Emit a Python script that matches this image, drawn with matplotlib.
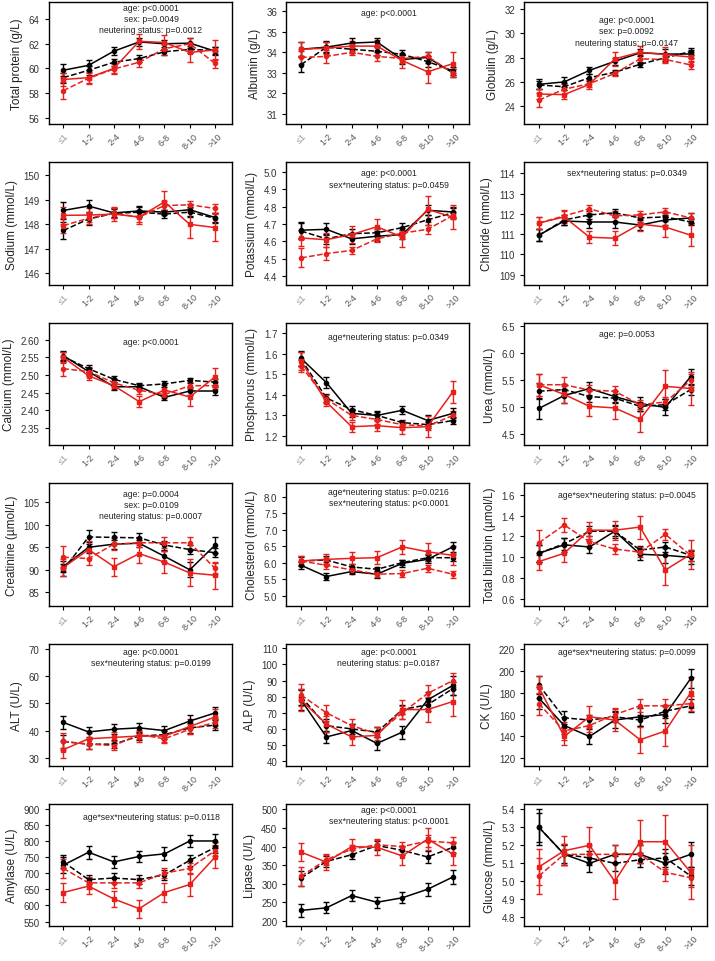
import numpy as np
import matplotlib
matplotlib.use("Agg")
import matplotlib.pyplot as plt

plt.rcParams['font.family'] = ['Liberation Sans', 'DejaVu Sans']

ages = ["≤1", "1-2", "2-4", "4-6", "6-8", "8-10", ">10"]

# each panel: [black solid, black dashed, red solid, red dashed]
total_protein = [[59.85, 60.25, 61.4, 62.15, 62.0, 62.05, 61.4],
                 [59.25, 59.85, 60.5, 60.8, 61.35, 61.55, 61.45],
                 [59.1, 59.25, 60.0, 62.2, 62.1, 61.3, 61.5],
                 [58.2, 59.2, 59.95, 60.5, 61.6, 62.0, 60.4]]
total_protein_err = [[0.5, 0.4, 0.35, 0.35, 0.3, 0.4, 0.35],
                     [0.4, 0.35, 0.3, 0.3, 0.25, 0.3, 0.3],
                     [0.5, 0.4, 0.4, 0.6, 0.6, 0.8, 0.8],
                     [0.7, 0.5, 0.4, 0.35, 0.5, 0.5, 0.4]]

albumin = [[34.15, 34.25, 34.45, 34.5, 33.65, 33.75, 33.0],
           [33.4, 34.25, 34.15, 34.05, 33.9, 33.55, 33.1],
           [34.15, 34.2, 34.3, 34.3, 33.6, 33.05, 33.45],
           [33.75, 33.8, 34.0, 33.8, 33.7, 33.8, 33.0]]
albumin_err = [[0.35, 0.3, 0.25, 0.2, 0.2, 0.25, 0.2],
               [0.35, 0.25, 0.2, 0.2, 0.2, 0.25, 0.2],
               [0.35, 0.3, 0.25, 0.3, 0.35, 0.55, 0.55],
               [0.3, 0.3, 0.15, 0.2, 0.2, 0.2, 0.2]]

globulin = [[25.8, 26.0, 26.95, 27.7, 28.4, 28.3, 28.3],
            [25.75, 25.6, 26.35, 26.8, 27.45, 28.0, 28.5],
            [25.0, 24.95, 25.8, 27.9, 28.45, 28.25, 28.05],
            [24.5, 25.4, 25.85, 26.7, 27.9, 27.85, 27.4]]
globulin_err = [[0.4, 0.4, 0.3, 0.3, 0.3, 0.4, 0.3],
                [0.3, 0.3, 0.3, 0.2, 0.2, 0.3, 0.3],
                [0.4, 0.4, 0.4, 0.55, 0.55, 0.6, 0.4],
                [0.55, 0.4, 0.3, 0.2, 0.3, 0.3, 0.3]]

sodium = [[148.57, 148.75, 148.47, 148.55, 148.5, 148.6, 148.28],
          [147.75, 148.22, 148.45, 148.5, 148.42, 148.5, 148.25],
          [148.37, 148.38, 148.42, 148.3, 148.92, 148.0, 147.87],
          [147.95, 148.25, 148.45, 148.3, 148.77, 148.8, 148.65]]
sodium_err = [[0.35, 0.25, 0.15, 0.2, 0.1, 0.25, 0.2],
              [0.35, 0.25, 0.2, 0.2, 0.15, 0.2, 0.2],
              [0.35, 0.3, 0.3, 0.3, 0.45, 0.55, 0.55],
              [0.3, 0.25, 0.2, 0.2, 0.2, 0.15, 0.2]]

potassium = [[4.665, 4.67, 4.615, 4.63, 4.64, 4.78, 4.77],
             [4.66, 4.615, 4.645, 4.65, 4.68, 4.725, 4.765],
             [4.62, 4.61, 4.64, 4.685, 4.625, 4.785, 4.74],
             [4.505, 4.53, 4.548, 4.615, 4.648, 4.67, 4.75]]
potassium_err = [[0.045, 0.035, 0.03, 0.03, 0.025, 0.03, 0.03],
                 [0.045, 0.03, 0.025, 0.02, 0.025, 0.03, 0.03],
                 [0.045, 0.04, 0.05, 0.045, 0.055, 0.075, 0.07],
                 [0.055, 0.04, 0.02, 0.02, 0.02, 0.025, 0.02]]

chloride = [[110.95, 111.65, 111.6, 111.6, 111.45, 111.7, 111.8],
            [110.95, 111.7, 111.95, 112.05, 111.8, 111.85, 111.6],
            [111.55, 111.85, 110.85, 110.8, 111.5, 111.35, 110.95],
            [111.55, 111.9, 112.25, 111.9, 111.95, 112.1, 111.8]]
chloride_err = [[0.3, 0.2, 0.3, 0.3, 0.25, 0.25, 0.25],
                [0.3, 0.25, 0.2, 0.2, 0.2, 0.2, 0.15],
                [0.3, 0.3, 0.3, 0.35, 0.35, 0.5, 0.55],
                [0.3, 0.3, 0.2, 0.25, 0.2, 0.2, 0.25]]

calcium = [[2.555, 2.51, 2.467, 2.467, 2.437, 2.455, 2.455],
           [2.552, 2.518, 2.488, 2.47, 2.475, 2.485, 2.48],
           [2.55, 2.498, 2.47, 2.425, 2.458, 2.438, 2.495],
           [2.518, 2.51, 2.478, 2.457, 2.445, 2.47, 2.47]]
calcium_err = [[0.012, 0.01, 0.008, 0.008, 0.008, 0.01, 0.01],
               [0.012, 0.01, 0.008, 0.008, 0.008, 0.008, 0.008],
               [0.015, 0.012, 0.01, 0.015, 0.015, 0.025, 0.025],
               [0.02, 0.012, 0.01, 0.01, 0.01, 0.01, 0.01]]

phosphorus = [[1.578, 1.46, 1.31, 1.3, 1.325, 1.275, 1.31],
              [1.575, 1.385, 1.328, 1.3, 1.265, 1.255, 1.275],
              [1.565, 1.365, 1.245, 1.25, 1.24, 1.245, 1.415],
              [1.54, 1.38, 1.3, 1.28, 1.255, 1.248, 1.3]]
phosphorus_err = [[0.035, 0.025, 0.02, 0.02, 0.02, 0.025, 0.025],
                  [0.035, 0.02, 0.02, 0.015, 0.015, 0.015, 0.015],
                  [0.045, 0.02, 0.025, 0.025, 0.03, 0.05, 0.055],
                  [0.03, 0.02, 0.02, 0.02, 0.02, 0.02, 0.02]]

urea = [[4.98, 5.22, 5.35, 5.2, 5.07, 5.0, 5.57],
        [5.3, 5.33, 5.2, 5.17, 5.02, 5.05, 5.33],
        [5.42, 5.24, 5.02, 4.99, 4.78, 5.39, 5.35],
        [5.42, 5.42, 5.32, 5.3, 5.05, 5.1, 5.5]]
urea_err = [[0.2, 0.13, 0.12, 0.1, 0.13, 0.15, 0.15],
            [0.15, 0.1, 0.1, 0.08, 0.08, 0.1, 0.1],
            [0.2, 0.15, 0.18, 0.2, 0.23, 0.3, 0.3],
            [0.2, 0.15, 0.1, 0.1, 0.08, 0.1, 0.12]]

creatinine = [[90.7, 95.0, 95.7, 95.9, 93.0, 90.0, 95.5],
              [90.0, 97.3, 97.2, 97.1, 95.5, 94.5, 93.8],
              [90.5, 94.5, 90.7, 93.6, 91.7, 89.3, 88.8],
              [92.8, 92.5, 95.7, 96.0, 96.0, 96.0, 90.3]]
creatinine_err = [[1.2, 1.2, 1.0, 0.8, 1.2, 1.7, 1.8],
                  [1.3, 1.5, 1.2, 1.0, 1.0, 1.0, 1.0],
                  [1.8, 1.8, 2.0, 2.0, 2.5, 3.0, 3.0],
                  [2.5, 1.5, 1.3, 1.0, 1.2, 1.3, 1.3]]

cholesterol = [[5.92, 5.58, 5.73, 5.65, 5.98, 6.1, 6.48],
               [6.05, 6.08, 5.87, 5.8, 6.0, 6.15, 6.15],
               [6.05, 6.1, 6.13, 6.15, 6.48, 6.33, 6.22],
               [6.05, 5.92, 5.78, 5.65, 5.67, 5.83, 5.65]]
cholesterol_err = [[0.1, 0.1, 0.08, 0.1, 0.1, 0.12, 0.15],
                   [0.12, 0.12, 0.08, 0.08, 0.08, 0.1, 0.1],
                   [0.15, 0.15, 0.18, 0.2, 0.22, 0.28, 0.28],
                   [0.15, 0.1, 0.08, 0.08, 0.1, 0.1, 0.1]]

bilirubin = [[1.04, 1.12, 1.1, 1.25, 1.03, 1.02, 1.0],
             [1.04, 1.13, 1.25, 1.25, 1.07, 1.1, 1.02],
             [0.96, 1.04, 1.26, 1.26, 1.29, 0.88, 1.03],
             [1.14, 1.31, 1.15, 1.08, 1.05, 1.22, 1.02]]
bilirubin_err = [[0.08, 0.07, 0.06, 0.06, 0.05, 0.07, 0.06],
                 [0.08, 0.06, 0.05, 0.05, 0.04, 0.05, 0.05],
                 [0.08, 0.08, 0.08, 0.09, 0.11, 0.14, 0.14],
                 [0.12, 0.07, 0.05, 0.05, 0.05, 0.05, 0.05]]

alt = [[43, 39.5, 40.5, 41, 40, 43.5, 46.5],
       [36, 35, 35, 38, 38.5, 41, 42],
       [33, 37, 37.5, 38, 38, 41.5, 45],
       [36, 35, 34.5, 38.5, 37, 40.5, 43]]
alt_err = [[2.5, 1.8, 1.8, 1.8, 1.8, 2.2, 2.2],
           [2.5, 1.8, 1.5, 1.5, 1.5, 1.8, 1.8],
           [3.0, 2.2, 2.0, 2.2, 2.2, 2.8, 3.0],
           [3.0, 1.8, 1.5, 1.5, 1.5, 1.8, 2.0]]

alp = [[78, 55, 59, 51, 58, 78, 87],
       [80, 62, 60, 58, 72, 75, 85],
       [78, 63, 55, 56, 72, 72, 77],
       [81, 70, 62, 57, 70, 82, 90]]
alp_err = [[6, 4, 4, 4, 4, 5, 6],
           [5, 4, 3, 3, 3, 4, 4],
           [7, 5, 5, 5, 6, 8, 9],
           [7, 5, 4, 4, 4, 5, 5]]

ck = [[175, 150, 140, 155, 158, 160, 193],
      [187, 157, 155, 158, 155, 163, 168],
      [185, 140, 158, 155, 137, 145, 180],
      [170, 145, 150, 160, 168, 168, 170]]
ck_err = [[10, 8, 7, 7, 8, 8, 9],
          [8, 6, 5, 5, 5, 6, 6],
          [10, 8, 10, 10, 12, 14, 14],
          [10, 8, 6, 6, 6, 6, 7]]

amylase = [[725, 765, 735, 752, 760, 800, 800],
           [735, 680, 685, 680, 695, 740, 780],
           [640, 660, 620, 590, 640, 665, 750],
           [715, 670, 670, 670, 700, 715, 770]]
amylase_err = [[25, 20, 18, 18, 20, 20, 22],
               [20, 15, 15, 15, 15, 18, 18],
               [30, 25, 25, 28, 30, 35, 35],
               [30, 18, 15, 15, 15, 18, 18]]

lipase = [[228, 235, 268, 250, 262, 285, 318],
          [315, 360, 378, 403, 390, 372, 398],
          [385, 358, 400, 398, 375, 420, 380],
          [320, 365, 393, 405, 400, 415, 410]]
lipase_err = [[18, 15, 15, 15, 15, 18, 20],
              [20, 15, 12, 12, 12, 15, 15],
              [25, 20, 20, 22, 25, 30, 30],
              [25, 15, 12, 12, 12, 15, 15]]

glucose = [[5.3, 5.15, 5.1, 5.15, 5.15, 5.1, 5.15],
           [5.3, 5.15, 5.13, 5.1, 5.12, 5.13, 5.03],
           [5.08, 5.17, 5.2, 5.0, 5.22, 5.22, 5.05],
           [5.03, 5.15, 5.15, 5.15, 5.15, 5.05, 5.02]]
glucose_err = [[0.1, 0.06, 0.05, 0.05, 0.05, 0.06, 0.07],
               [0.08, 0.05, 0.04, 0.04, 0.04, 0.05, 0.05],
               [0.1, 0.08, 0.1, 0.1, 0.12, 0.15, 0.15],
               [0.1, 0.06, 0.05, 0.05, 0.05, 0.05, 0.05]]

panels = [
    ("Total protein (g/L)", total_protein, total_protein_err, (55.46, 65.4), np.arange(56, 65, 2), "%d",
     "age: p<0.0001\nsex: p=0.0049\nneutering status: p=0.0012", 0.99),
    ("Albumin (g/L)", albumin, albumin_err, (30.5, 36.45), np.arange(31, 37, 1), "%d",
     "age: p<0.0001", 0.95),
    ("Globulin (g/L)", globulin, globulin_err, (22.5, 32.6), np.arange(24, 33, 2), "%d",
     "age: p<0.0001\nsex: p=0.0092\nneutering status: p=0.0147", 0.89),
    ("Sodium (mmol/L)", sodium, sodium_err, (145.53, 150.54), np.arange(146, 151, 1), "%d",
     "", 0.95),
    ("Potassium (mmol/L)", potassium, potassium_err, (4.35, 5.057), np.arange(4.4, 5.05, 0.1), "%.1f",
     "age: p<0.0001\nsex*neutering status: p=0.0459", 0.95),
    ("Chloride (mmol/L)", chloride, chloride_err, (108.51, 114.54), np.arange(109, 115, 1), "%d",
     "sex*neutering status: p=0.0349", 0.95),
    ("Calcium (mmol/L)", calcium, calcium_err, (2.302, 2.648), np.arange(2.35, 2.61, 0.05), "%.2f",
     "age: p<0.0001", 0.88),
    ("Phosphorus (mmol/L)", phosphorus, phosphorus_err, (1.155, 1.752), np.arange(1.2, 1.71, 0.1), "%.1f",
     "age*neutering status: p=0.0349", 0.92),
    ("Urea (mmol/L)", urea, urea_err, (4.3, 6.57), np.arange(4.5, 6.6, 0.5), "%.1f",
     "age: p=0.0053", 0.95),
    ("Creatinine (µmol/L)", creatinine, creatinine_err, (82.06, 109.26), np.arange(85, 106, 5), "%d",
     "age: p=0.0004\nsex: p=0.0109\nneutering status: p=0.0007", 0.95),
    ("Cholesterol (mmol/L)", cholesterol, cholesterol_err, (4.70, 8.41), np.arange(5.0, 8.1, 0.5), "%.1f",
     "age*neutering status: p=0.0216\nsex*neutering status: p<0.0001", 0.97),
    ("Total bilirubin (µmol/L)", bilirubin, bilirubin_err, (0.54, 1.71), np.arange(0.6, 1.65, 0.2), "%.1f",
     "age*sex*neutering status: p=0.0045", 0.94),
    ("ALT (U/L)", alt, alt_err, (27, 72), np.arange(30, 71, 10), "%d",
     "age: p<0.0001\nsex*neutering status: p=0.0199", 0.97),
    ("ALP (U/L)", alp, alp_err, (37, 113), np.arange(40, 111, 10), "%d",
     "age: p<0.0001\nneutering status: p=0.0187", 0.97),
    ("CK (U/L)", ck, ck_err, (113, 225), np.arange(120, 221, 20), "%d",
     "age*sex*neutering status: p=0.0099", 0.97),
    ("Amylase (U/L)", amylase, amylase_err, (535, 915), np.arange(550, 901, 50), "%d",
     "age*sex*neutering status: p=0.0118", 0.93),
    ("Lipase (U/L)", lipase, lipase_err, (185, 515), np.arange(200, 501, 50), "%d",
     "age: p<0.0001\nsex*neutering status: p<0.0001", 0.99),
    ("Glucose (mmol/L)", glucose, glucose_err, (4.75, 5.43), np.arange(4.8, 5.41, 0.1), "%.1f",
     "", 0.95),
]

styles = [dict(color='black', ls='-', marker='o'),
          dict(color='black', ls='--', marker='o'),
          dict(color='#e8201c', ls='-', marker='s'),
          dict(color='#e8201c', ls='--', marker='o')]

fig, axes = plt.subplots(6, 3, figsize=(7.15, 9.62), dpi=100)
fig.subplots_adjust(left=0.068, right=0.989, top=0.997, bottom=0.036, wspace=0.30, hspace=0.31)

x = np.arange(len(ages))
for ax, (label, vals, errs, ylim, ticks, fmt, note, note_y) in zip(axes.flat, panels):
    for v, e, st in zip(vals, errs, styles):
        ax.errorbar(x, v, yerr=e, color=st['color'], ls=st['ls'], marker=st['marker'],
                    markersize=3, linewidth=1.1, elinewidth=1.0, capsize=2.5, capthick=1.0)
    ax.set_xlim(-0.58, 6.65)
    ax.set_ylim(*ylim)
    ax.set_yticks(ticks)
    ax.set_yticklabels([fmt % t for t in ticks], fontsize=7, color='#333333')
    ax.set_xticks(x)
    ax.set_xticklabels(ages, rotation=45, fontsize=6.5, color='#555555', ha='center')
    ax.get_xticklabels()[0].set_color('#999999')
    ax.set_ylabel(label, fontsize=8.5, color='#222222', labelpad=4)
    ax.tick_params(axis='both', length=3, width=0.8)
    ax.tick_params(axis='x', pad=2)
    for s in ax.spines.values():
        s.set_linewidth(1.0)
    if note:
        ax.text(0.56, note_y, note, transform=ax.transAxes, ha='center', va='top',
                fontsize=6.2, color='#222222', linespacing=1.3)

fig.savefig("out.png", dpi=100)
